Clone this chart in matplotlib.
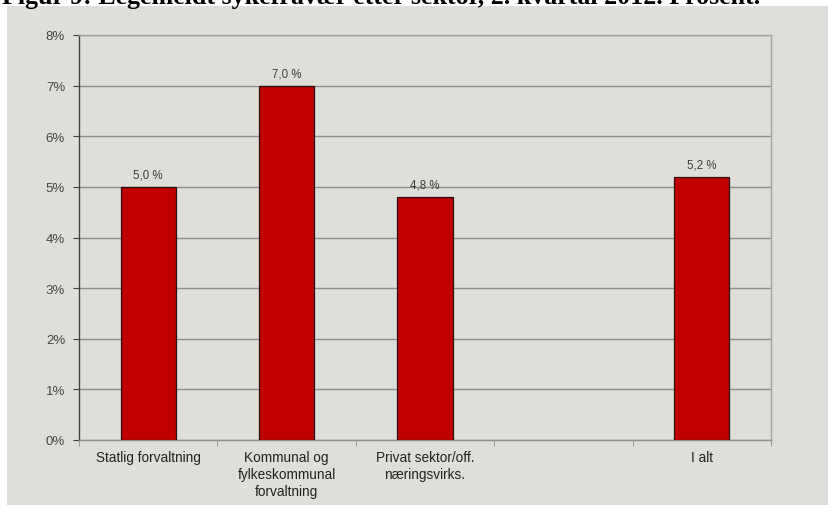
import numpy as np
import matplotlib.pyplot as plt
from matplotlib.patches import Rectangle

# Sykefravær etter sektor (prosent)
sektorer = ["Statlig forvaltning",
            "Kommunal og\nfylkeskommunal\nforvaltning",
            "Privat sektor/off.\nnæringsvirks.",
            "",
            "I alt"]
fravaer = [5.0, 7.0, 4.8, np.nan, 5.2]
y_ticks = [0, 1, 2, 3, 4, 5, 6, 7, 8]

bg = "#dfded9"
bar_color = "#c00000"

W, H = 829, 506
fig = plt.figure(figsize=(W / 100, H / 100), dpi=100)
fig.patch.set_facecolor("white")

# grå bakgrunn for diagramområdet
fig.patches.append(Rectangle((7 / W, 0), 1 - 7 / W, 1 - 7 / H,
                             transform=fig.transFigure, facecolor=bg,
                             edgecolor="none", zorder=-5))

# tittel (delvis avskåret øverst)
fig.text(2 / W, 1 - 4 / H,
         "Figur 9: Legemeldt sykefravær etter sektor, 2. kvartal 2012. Prosent.",
         family="Liberation Serif", weight="bold", fontsize=18.7,
         ha="left", va="baseline")

ax = fig.add_axes([79 / W, (H - 441) / H, (771 - 79) / W, (441 - 36) / H])
ax.set_zorder(2)
ax.set_facecolor(bg)

x = np.arange(len(sektorer))
bars = ax.bar(x, fravaer, width=0.4, color=bar_color, edgecolor="#2a1010",
              linewidth=0.9, zorder=3)

for xi, v in zip(x, fravaer):
    if np.isnan(v):
        continue
    ax.text(xi, v + 0.12, f"{v:.1f} %".replace(".", ","), ha="center",
            va="bottom", fontsize=8.3, color="#3c3c3c",
            family="Liberation Sans")

ax.set_xlim(-0.5, len(sektorer) - 0.5)
ax.set_ylim(0, 8)
ax.set_yticks(y_ticks)
ax.set_yticklabels([f"{t}%" for t in y_ticks], family="Liberation Sans",
                   fontsize=9.5, color="#454545")
ax.yaxis.grid(True, color="#8e8e8e", linewidth=1.0, zorder=1)
ax.set_axisbelow(True)

ax.set_xticks(x)
ax.set_xticklabels(sektorer, family="Liberation Sans", fontsize=9.8,
                   color="#222222", linespacing=1.3)
ax.tick_params(axis="x", which="major", length=0, pad=7)
ax.set_xticks(np.arange(-0.5, len(sektorer)), minor=True)
ax.tick_params(axis="x", which="minor", length=4, color="#909090",
               direction="out")
ax.tick_params(axis="y", length=4, color="#404040", pad=6)

ax.spines["left"].set_color("#404040")
ax.spines["bottom"].set_color("#909090")
ax.spines["top"].set_color("#a5a5a5")
ax.spines["right"].set_color("#a5a5a5")
for s in ax.spines.values():
    s.set_linewidth(1.0)

fig.savefig("out.png", dpi=100, facecolor=fig.get_facecolor())
